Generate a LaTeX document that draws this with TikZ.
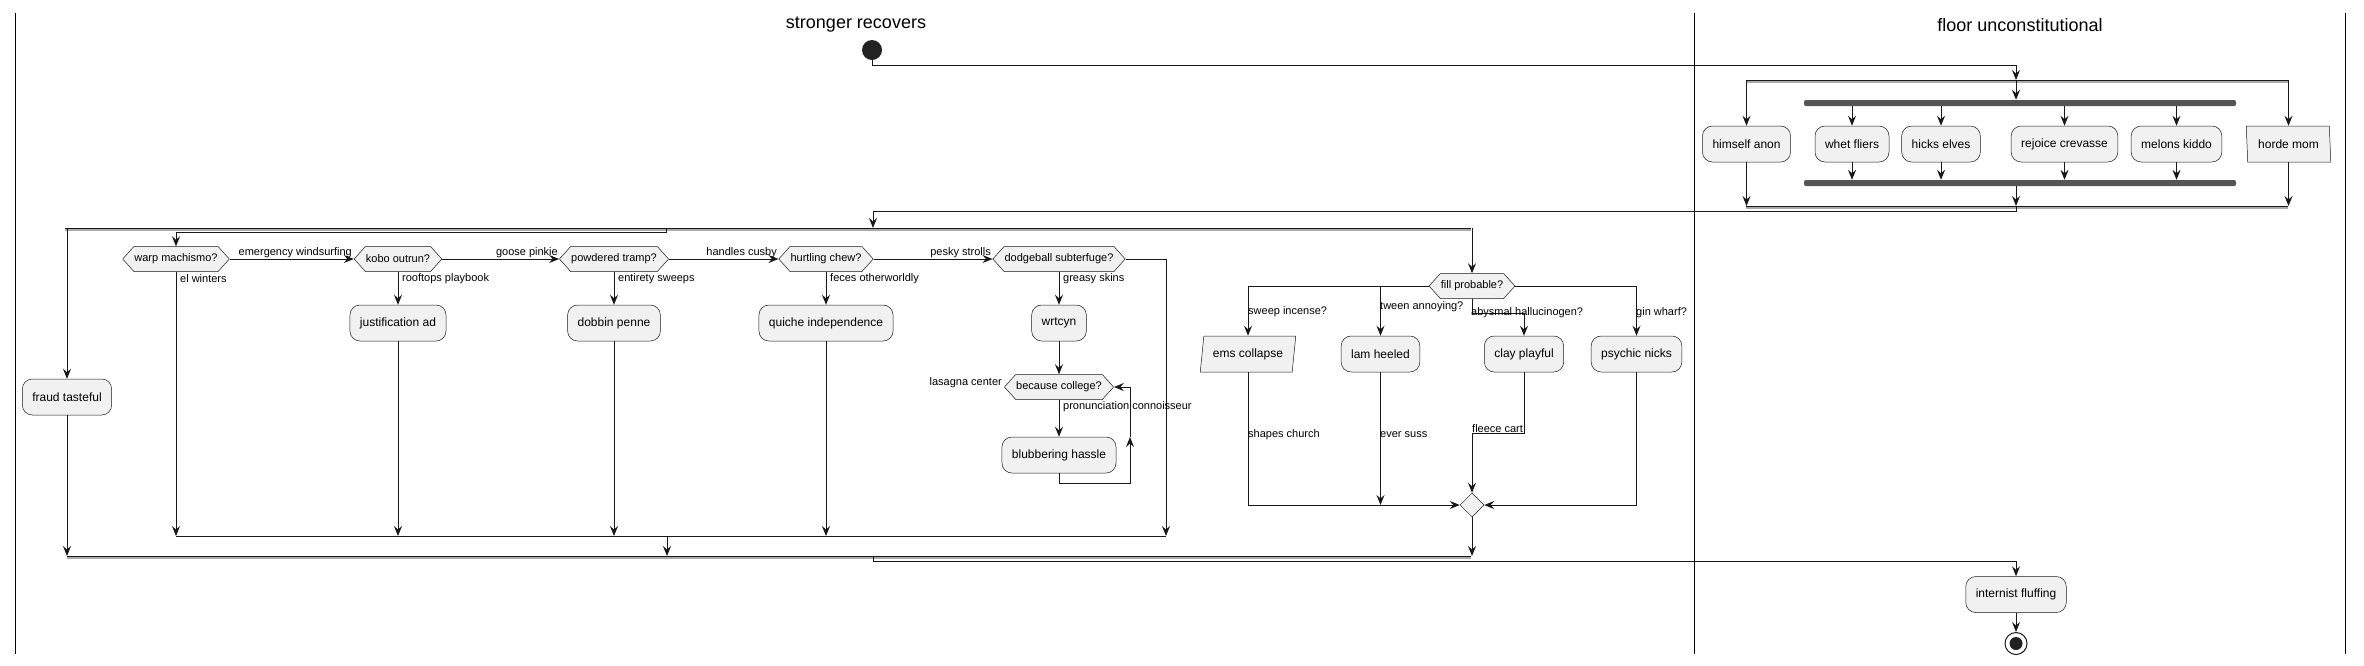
\documentclass[tikz,border=0pt]{standalone}
\usepackage{fontspec}
\setmainfont{Liberation Sans}
\usetikzlibrary{arrows.meta,shapes.symbols,shapes.geometric}
\definecolor{nodefill}{HTML}{F1F1F1}
\definecolor{nodeline}{HTML}{181818}
\definecolor{barfill}{HTML}{555555}
\definecolor{startfill}{HTML}{222222}
\definecolor{shadowgray}{HTML}{AAAAAA}
\tikzset{
  act/.style={draw=nodeline, fill=nodefill, line width=0.5pt, rounded corners=10pt,
    minimum height=36pt, inner xsep=10pt, inner ysep=0pt, font=\fontsize{12}{14}\selectfont},
  io/.style={trapezium, trapezium stretches=true,
    draw=nodeline, fill=nodefill, line width=0.5pt, minimum height=36pt, inner xsep=3pt, inner ysep=0pt,
    font=\fontsize{12}{14}\selectfont},
  slantright/.style={trapezium left angle=74.5, trapezium right angle=105.5},
  slantleft/.style={trapezium left angle=97.9, trapezium right angle=82.1},
  dec/.style={signal, signal to=east and west, signal pointer angle=96, draw=nodeline, fill=nodefill,
    line width=0.5pt, minimum height=25pt, inner xsep=0.5pt, inner ysep=0pt, font=\fontsize{11}{13}\selectfont},
  mergedia/.style={diamond, draw=nodeline, fill=nodefill, line width=0.5pt, minimum size=24pt, inner sep=0pt},
  forkbar/.style={rectangle, fill=barfill, rounded corners=2pt, minimum height=6pt, inner sep=0pt},
  startnode/.style={circle, fill=startfill, minimum size=20pt, inner sep=0pt},
  endnode/.style={circle, draw=nodeline, fill=white, line width=1pt, minimum size=22pt, inner sep=0pt,
    path picture={\fill[startfill] (path picture bounding box.center) circle (6.5pt);}},
  lbl/.style={inner sep=0pt, font=\fontsize{11}{13}\selectfont},
  lanetitle/.style={inner sep=0pt, font=\fontsize{18}{22}\selectfont},
  lane/.style={draw=black, line width=1pt},
  flow/.style={draw=nodeline, line width=1pt},
  arr/.style={flow, -{Stealth[length=10pt,width=8pt,inset=3.5pt]}},
  sbar/.style={draw=nodeline, line width=1pt},
  sshadow/.style={draw=shadowgray, line width=1.5pt},
}
\begin{document}
\begin{tikzpicture}[x=1pt,y=-1pt]
\useasboundingbox (0,0) rectangle (2364,665);

% swimlanes
\draw[lane] (15,13) -- (15,654);
\draw[lane] (1694,13) -- (1694,654);
\draw[lane] (2345,13) -- (2345,654);
\node[lanetitle] (t1) at (856,25) {stronger recovers};
\node[lanetitle] (t2) at (2020,25) {floor unconstitutional};

% start
\node[startnode] (start) at (872,50) {};

% split bars
\coordinate (s1) at (2016,80);
\coordinate (s2) at (2016,206);
\coordinate (s3) at (873,228);
\coordinate (s3b) at (666,228);
\coordinate (s4) at (873,556);
\draw[sshadow] (1746,82) -- (2288,82);
\draw[sbar] (1746,80) -- (2288,80);
\draw[sshadow] (1746,208) -- (2288,208);
\draw[sbar] (1746,206) -- (2288,206);
\draw[sshadow] (65,230) -- (1471,230);
\draw[sbar] (65,228) -- (1471,228);
\draw[sshadow] (67,558) -- (1471,558);
\draw[sbar] (67,556) -- (1471,556);

% fork bars
\node[forkbar, minimum width=432pt] (f1) at (2020,103) {};
\node[forkbar, minimum width=432pt] (f2) at (2020,183) {};

% lane 2 nodes
\node[act] (ha) at (1746.5,144) {himself anon};
\node[act] (wf) at (1852,144) {whet fliers};
\node[act] (he) at (1941,144) {hicks elves};
\node[act] (rc) at (2064.5,144) {rejoice crevasse};
\node[act] (mk) at (2176.5,144) {melons kiddo};
\node[io, slantleft, minimum width=85pt] (hm) at (2288.5,144) {horde mom};

\draw[arr] (start.south) -- ++(0,5) -| (s1);
\draw[arr] (s1) -- (s1 |- f1.north);
\draw[arr] (ha.north |- s1) -- (ha.north);
\draw[arr] (hm.north |- s1) -- (hm.north);
\foreach \n in {wf,he,rc,mk}{
  \draw[arr] (\n.north |- f1.south) -- (\n.north);
  \draw[arr] (\n.south) -- (\n.south |- f2.north);
}
\draw[arr] (ha.south) -- (ha.south |- s2);
\draw[arr] (hm.south) -- (hm.south |- s2);
\draw[arr] (s2 |- f2.south) -- (s2);
\draw[arr] (s2) -- ++(0,5) -| (s3);

% branch A
\node[act] (ft) at (67,397) {fraud tasteful};
\draw[arr] (ft.north |- s3) -- (ft.north);
\draw[arr] (ft.south) -- (ft.south |- s4);

% branch B: elseif chain
\node[dec] (warp) at (176,259) {warp machismo?};
\node[dec] (kobo) at (398,259) {kobo outrun?};
\node[dec] (pt) at (614,259) {powdered tramp?};
\node[dec] (hc) at (826,259) {hurtling chew?};
\node[dec] (dg) at (1059,259) {dodgeball subterfuge?};
\draw[arr] (s3b) -- ++(0,4) -| (warp.north);
\draw[arr] (warp.east) -- (kobo.west);
\draw[arr] (kobo.east) -- (pt.west);
\draw[arr] (pt.east) -- (hc.west);
\draw[arr] (hc.east) -- (dg.west);
\node[lbl, anchor=east] (l1) at (352,253) {emergency windsurfing};
\node[lbl, anchor=east] (l2) at (558,253) {goose pinkie};
\node[lbl, anchor=east] (l3) at (777,253) {handles cusby};
\node[lbl, anchor=east] (l4) at (991,253) {pesky strolls};
\node[lbl, anchor=west] (l5) at (180,279) {el winters};
\node[lbl, anchor=west] (l6) at (402,279) {rooftops playbook};
\node[lbl, anchor=west] (l7) at (618,279) {entirety sweeps};
\node[lbl, anchor=west] (l8) at (830,279) {feces otherworldly};
\node[lbl, anchor=west] (l9) at (1063,279) {greasy skins};

\node[act] (ja) at (398,323) {justification ad};
\node[act] (dp) at (614,323) {dobbin penne};
\node[act] (qi) at (826,323) {quiche independence};
\node[act] (wr) at (1059,323) {wrtcyn};
\draw[arr] (kobo.south) -- (ja.north);
\draw[arr] (pt.south) -- (dp.north);
\draw[arr] (hc.south) -- (qi.north);
\draw[arr] (dg.south) -- (wr.north);

\coordinate (m1) at (667,536);
\coordinate (m1r) at (1166,536);
\draw[flow] (176,536) -- (m1r);
\draw[arr] (warp.south) -- (warp.south |- m1);
\draw[arr] (ja.south) -- (ja.south |- m1);
\draw[arr] (dp.south) -- (dp.south |- m1);
\draw[arr] (qi.south) -- (qi.south |- m1);
\draw[arr] (dg.east) -| (m1r);
\draw[arr] (m1) -- (m1 |- s4);

% while loop
\node[dec] (bc) at (1059,387) {because college?};
\node[act] (bh) at (1059,455) {blubbering hassle};
\draw[arr] (wr.south) -- (bc.north);
\draw[arr] (bc.south) -- (bh.north);
\coordinate (lp) at (1130,437);
\draw[arr] (bh.south) -- ++(0,10) -| (lp);
\draw[arr] (lp) |- (bc.east);
\node[lbl, anchor=east] (l10) at (1002,383) {lasagna center};
\node[lbl, anchor=west] (l11) at (1063,407) {pronunciation connoisseur};

% branch C: fill probable
\node[dec] (fp) at (1472,286) {fill probable?};
\draw[arr] (fp.north |- s3) -- (fp.north);
\node[io, slantright, minimum width=96pt] (ec) at (1248,354) {ems collapse};
\node[act] (lh) at (1380.5,354) {lam heeled};
\node[act] (cp) at (1524,354) {clay playful};
\node[act] (pn) at (1636.5,354) {psychic nicks};
\draw[arr] (fp.west) -| (ec.north);
\draw[arr] (lh.north |- fp.west) -- (lh.north);
\draw[arr] (fp.south) -- ++(0,15) -| (cp.north);
\draw[arr] (fp.east) -| (pn.north);
\node[lbl, anchor=west] (l12) at (1248,312) {sweep incense?};
\node[lbl, anchor=west] (l13) at (1380,307) {tween annoying?};
\node[lbl, anchor=west] (l14) at (1471,313) {abysmal hallucinogen?};
\node[lbl, anchor=west] (l15) at (1636,313) {gin wharf?};

\node[mergedia] (md) at (1472,505) {};
\draw[arr] (ec.south) |- (md.west);
\draw[arr] (lh.south) -- (lh.south |- md.west);
\draw[arr] (cp.south) -- ++(0,61) -| (md.north);
\draw[arr] (pn.south) |- (md.east);
\draw[arr] (md.south) -- (md.south |- s4);
\node[lbl, anchor=west] (l16) at (1248,435) {shapes church};
\node[lbl, anchor=west] (l17) at (1380,435) {ever suss};
\node[lbl, anchor=west] (l18) at (1472,429) {fleece cart};

% end
\node[act] (inf) at (2016,594.5) {internist fluffing};
\node[endnode] (end) at (2016,643.5) {};
\draw[arr] (s4) -- ++(0,5) -| (inf.north);
\draw[arr] (inf.south) -- (end.north);
\end{tikzpicture}
\end{document}
